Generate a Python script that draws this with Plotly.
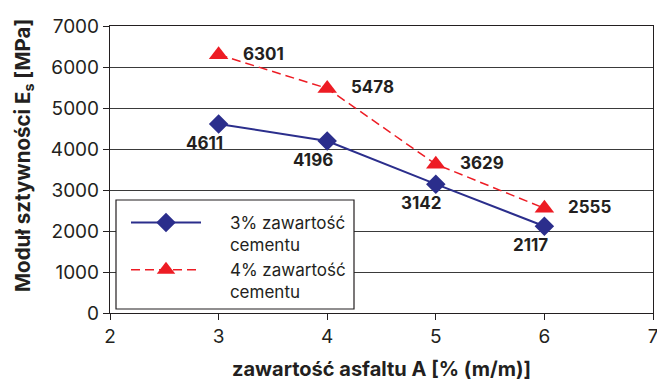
import plotly.graph_objects as go

# Asphalt content [% (m/m)] and stiffness modulus [MPa]
asphalt = [3, 4, 5, 6]
cement3 = [4611, 4196, 3142, 2117]
cement4 = [6301, 5478, 3629, 2555]
series_names = ["3% zawartość", "4% zawartość"]
series_suffix = "cementu"
x_ticks = [2, 3, 4, 5, 6, 7]
y_ticks = [0, 1000, 2000, 3000, 4000, 5000, 6000, 7000]
x_title = "zawartość asfaltu A [% (m/m)]"
y_title = "Moduł sztywności E<sub>s</sub> [MPa]"

BLUE = "#2B2E8C"
RED = "#ED1C24"
INK = "#231F20"
FONT = "Inter, Liberation Sans, Arial, sans-serif"
PAD = "&nbsp;" * 5

# plot area in pixels (left, right, top, bottom)
L, R, T, B = 110, 653, 26, 313


def px_x(p):
    return (p - L) / (R - L)


def px_y(p):
    return (B - p) / (B - T)


def legend_label(name):
    return PAD + name + "<br>" + PAD + series_suffix


fig = go.Figure()
fig.add_trace(go.Scatter(
    x=asphalt, y=cement3, mode="lines+markers", name=legend_label(series_names[0]),
    line=dict(color=BLUE, width=2),
    marker=dict(symbol="diamond", size=15, color=BLUE),
))
fig.add_trace(go.Scatter(
    x=asphalt, y=cement4, mode="lines+markers", name=legend_label(series_names[1]),
    line=dict(color=RED, width=1.5, dash="9px,5px"),
    marker=dict(symbol="triangle-up", size=17, color=RED),
))

# value labels
for xv, yv in zip(asphalt, cement4):
    fig.add_annotation(x=xv, y=yv, text=str(yv), showarrow=False,
                       xanchor="left", yanchor="middle", xshift=22, yshift=1,
                       font=dict(family=FONT, size=17, color=INK, weight="bold"))
for xv, yv in zip(asphalt, cement3):
    fig.add_annotation(x=xv, y=yv, text=str(yv), showarrow=False,
                       xanchor="center", yanchor="middle", xshift=-14, yshift=-19,
                       font=dict(family=FONT, size=17, color=INK, weight="bold"))

# axis titles
fig.add_annotation(xref="paper", yref="paper", x=px_x(23), y=px_y(156),
                   text=y_title, textangle=-90, showarrow=False,
                   xanchor="center", yanchor="middle",
                   font=dict(family=FONT, size=20.5, color=INK, weight="bold"))
fig.add_annotation(xref="paper", yref="paper", x=px_x(381), y=px_y(383),
                   text=x_title, showarrow=False,
                   xanchor="center", yanchor="bottom",
                   font=dict(family=FONT, size=20, color=INK, weight="bold"))

# legend frame
fig.add_shape(type="rect", xref="paper", yref="paper",
              x0=px_x(116), x1=px_x(354), y0=px_y(309), y1=px_y(200),
              line=dict(color=INK, width=1.2), fillcolor="white", layer="above")

fig.update_layout(
    width=657, height=383,
    margin=dict(l=L, r=657 - R, t=T, b=383 - B, autoexpand=False),
    paper_bgcolor="white", plot_bgcolor="white",
    font=dict(family=FONT, color=INK),
    showlegend=True,
    legend=dict(
        x=px_x(126), y=px_y(205), xanchor="left", yanchor="top",
        bgcolor="rgba(0,0,0,0)", borderwidth=0, valign="top",
        itemwidth=70, tracegroupgap=4,
        font=dict(family=FONT, size=17, color=INK),
    ),
    xaxis=dict(
        range=[2, 7], tickvals=x_ticks, showgrid=False, zeroline=False,
        showline=True, linecolor=INK, linewidth=1.2, mirror=True,
        ticks="outside", ticklen=6, tickcolor=INK, ticklabeloverflow="allow",
        tickfont=dict(family=FONT, size=19), automargin=False,
    ),
    yaxis=dict(
        range=[0, 7000], tickvals=y_ticks, showgrid=True, gridcolor="#3a3a3a", gridwidth=1,
        zeroline=False, showline=True, linecolor=INK, linewidth=1.2, mirror=True,
        ticks="outside", ticklen=6, tickcolor=INK,
        tickfont=dict(family=FONT, size=19), automargin=False,
    ),
)

fig.write_html("out.html")
